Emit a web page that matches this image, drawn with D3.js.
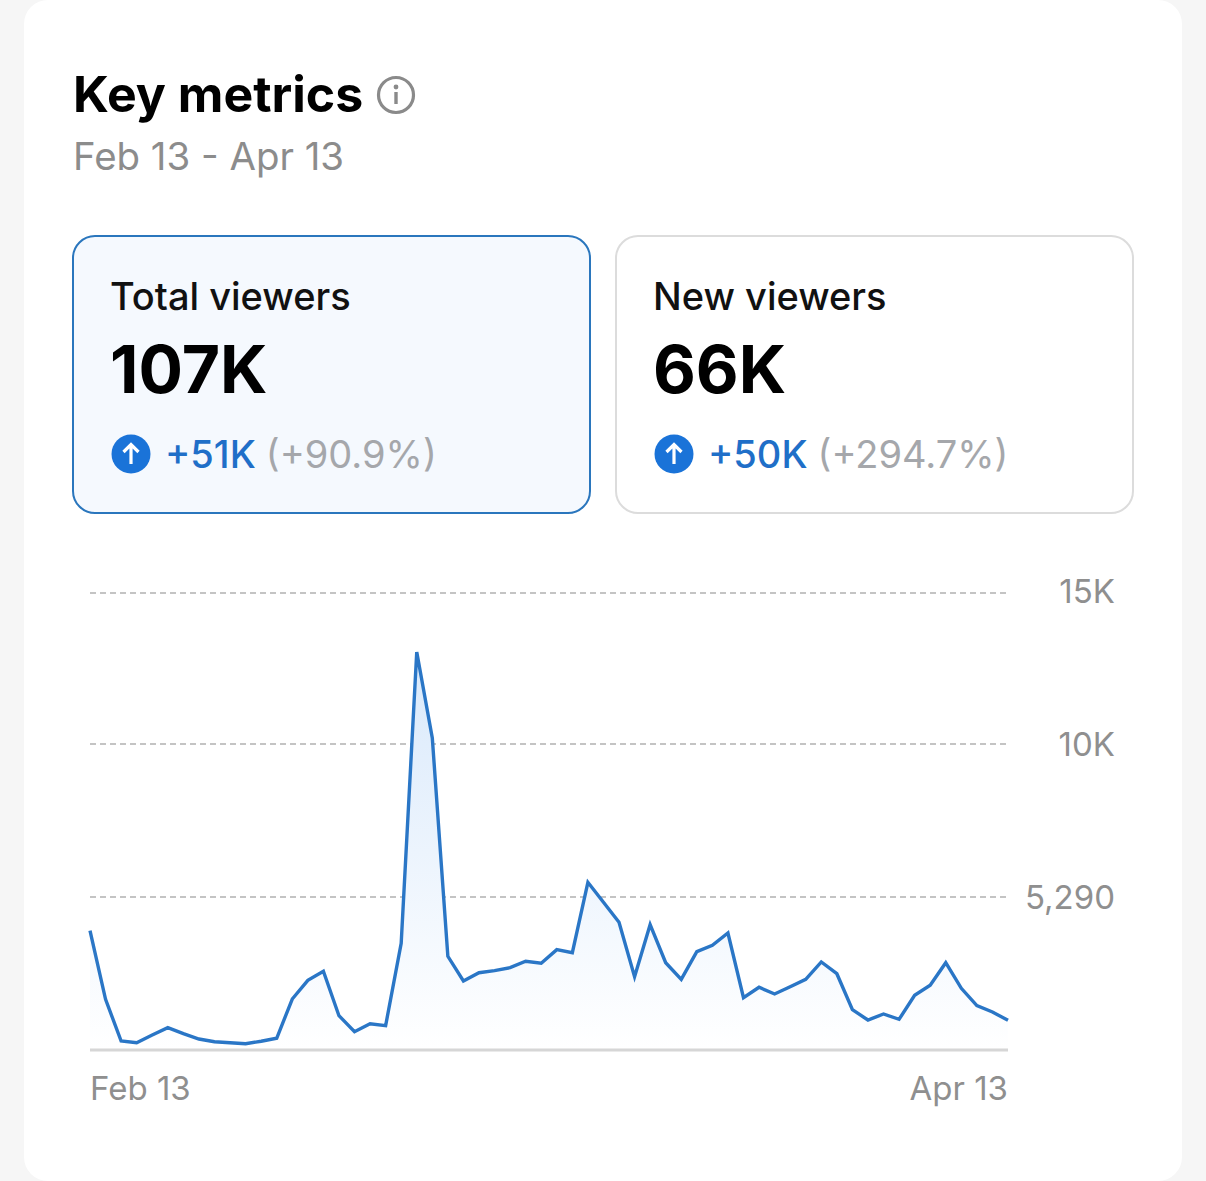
<!DOCTYPE html>
<html><head><meta charset="utf-8">
<script src="https://cdn.jsdelivr.net/npm/d3@7"></script>
<style>html,body{margin:0;padding:0;background:#f6f6f6}svg{display:block}text{font-family:Inter,"Noto Sans",sans-serif}</style>
</head><body><div id="c"></div>
<script>
const title="Key metrics", subtitle="Feb 13 - Apr 13";
const cardLabels=["Total viewers","New viewers"];
const cardValues=["107K","66K"];
const cardDeltas=["+51K","+50K"];
const cardPercents=["(+90.9%)","(+294.7%)"];
const yTickValues=[5290,10000,15000];
const yTickLabels=["5,290","10K","15K"];
const xTickLabels=["Feb 13","Apr 13"];
const viewers=[4125,1753,311,252,519,771,564,380,287,252,218,301,405,1763,2410,2721,1186,633,909,840,3689,13046,10199,3240,2386,2673,2742,2846,3067,2998,3468,3364,5742,5107,4415,2534,4332,3018,2444,3399,3620,4045,1808,2168,1936,2189,2444,3043,2638,1393,1037,1245,1061,1891,2237,3018,2133,1532,1314,1027];

const svg=d3.select("#c").append("svg").attr("width",1206).attr("height",1181);
const defs=svg.append("defs");
const g=defs.append("linearGradient").attr("id","fill").attr("x1",0).attr("x2",0).attr("y1",0).attr("y2",1);
g.append("stop").attr("offset","0").attr("stop-color","#d9e9fb");
g.append("stop").attr("offset","1").attr("stop-color","#ffffff");
svg.append("rect").attr("x",24).attr("y",0).attr("width",1158).attr("height",1181).attr("rx",24).attr("fill","#fff");

svg.append("text").attr("x",73).attr("y",112).attr("font-size",50).attr("font-weight",700).attr("fill","#000").text(title);
const info=svg.append("g").attr("transform","translate(396,95)");
info.append("circle").attr("r",17.5).attr("fill","none").attr("stroke","#8a8a8a").attr("stroke-width",3.2);
info.append("circle").attr("cy",-8).attr("r",2.4).attr("fill","#8a8a8a");
info.append("rect").attr("x",-1.7).attr("y",-3).attr("width",3.4).attr("height",12).attr("fill","#8a8a8a");
svg.append("text").attr("x",73).attr("y",170).attr("font-size",38.4).attr("fill","#8c8c8c").text(subtitle);

const cardX=[73,616];
cardLabels.forEach((l,i)=>{
  const x=cardX[i], c=svg.append("g");
  c.append("rect").attr("x",x).attr("y",236).attr("width",517).attr("height",277).attr("rx",22)
    .attr("fill",i==0?"#f5f9fe":"#fff").attr("stroke",i==0?"#2a76bd":"#dcdcdc").attr("stroke-width",2);
  c.append("text").attr("x",x+37).attr("y",310).attr("font-size",38).attr("font-weight",500).attr("fill","#111").text(l);
  c.append("text").attr("x",x+37).attr("y",393).attr("font-size",66).attr("font-weight",700).attr("fill","#000").text(cardValues[i]);
  const ic=c.append("g").attr("transform",`translate(${x+58},454)`);
  ic.append("circle").attr("r",19.5).attr("fill","#1a73d8");
  ic.append("path").attr("d","M0,10V-9M-7.5,-2L0,-9.5L7.5,-2").attr("fill","none").attr("stroke","#fff").attr("stroke-width",3.2);
  const d=c.append("text").attr("x",x+92).attr("y",468).attr("font-size",38);
  d.append("tspan").attr("fill","#1f6fc8").attr("font-weight",500).text(cardDeltas[i]);
  d.append("tspan").attr("dx",10).attr("fill","#a5a7ab").text(cardPercents[i]);
});

const x=d3.scaleLinear().domain([0,viewers.length-1]).range([90,1008]);
const y=d3.scaleLinear().domain([0,5290,10000,15000]).range([1050,897,744,593]);

yTickValues.forEach((v,i)=>{
  svg.append("line").attr("x1",90).attr("x2",1007).attr("y1",y(v)).attr("y2",y(v))
    .attr("stroke","#c4c4c4").attr("stroke-width",1.8).attr("stroke-dasharray","6 4");
  svg.append("text").attr("x",1115).attr("y",y(v)+(v===15000?10:12)).attr("text-anchor","end").attr("font-size",33).attr("fill","#8f8f8f").text(yTickLabels[i]);
});
const area=d3.area().x((d,i)=>x(i)).y0(y(0)).y1(d=>y(d));
const line=d3.line().x((d,i)=>x(i)).y(d=>y(d));
svg.append("path").datum(viewers).attr("d",area).attr("fill","url(#fill)");
svg.append("line").attr("x1",90).attr("x2",1008).attr("y1",y(0)).attr("y2",y(0)).attr("stroke","#d6d6d6").attr("stroke-width",3);
svg.append("path").datum(viewers).attr("d",line).attr("fill","none").attr("stroke","#2a76c6").attr("stroke-width",3.4);
svg.append("text").attr("x",90).attr("y",1100).attr("font-size",33).attr("fill","#8f8f8f").text(xTickLabels[0]);
svg.append("text").attr("x",1008).attr("y",1100).attr("text-anchor","end").attr("font-size",33).attr("fill","#8f8f8f").text(xTickLabels[1]);
</script></body></html>
